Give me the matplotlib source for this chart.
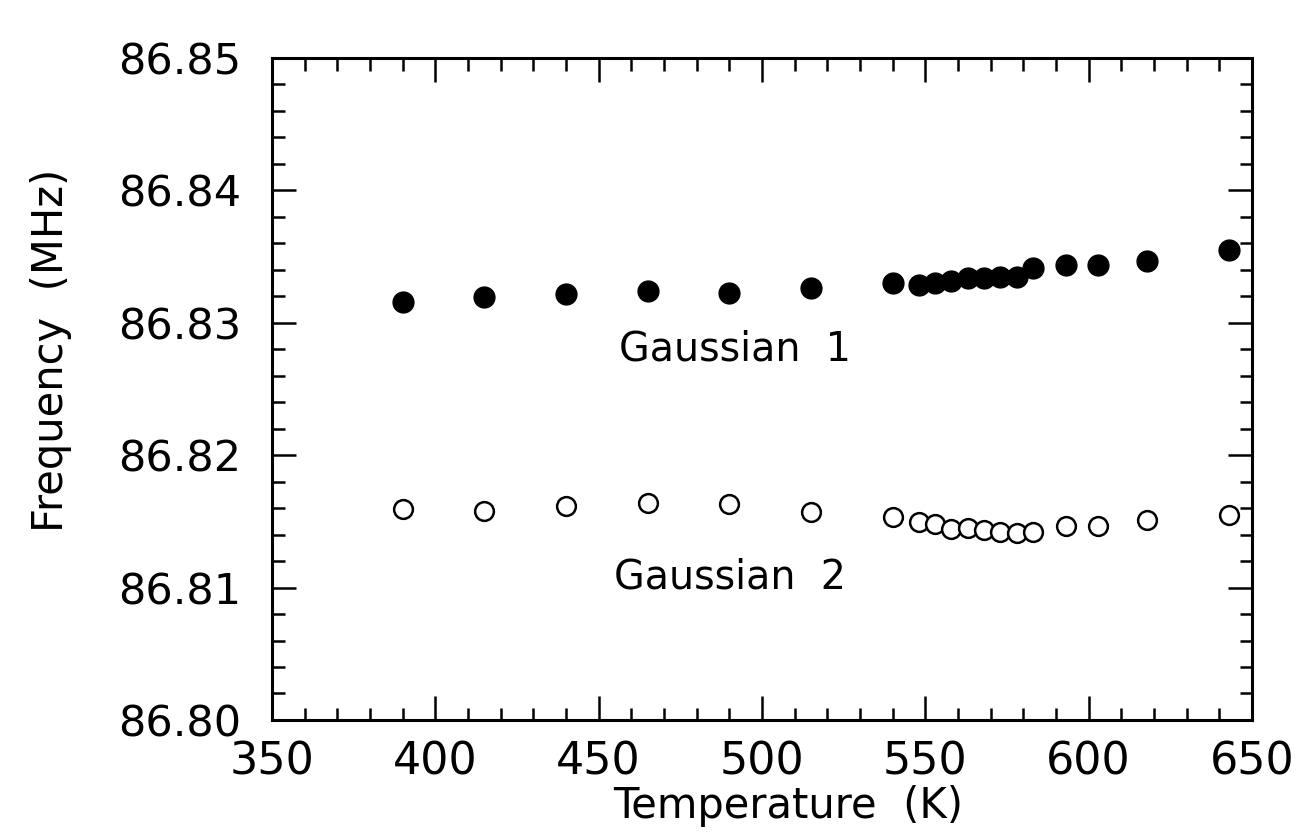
import numpy as np
import matplotlib
matplotlib.use('Agg')
import matplotlib.pyplot as plt
from matplotlib.ticker import MultipleLocator

# temperatures (K) of the measured points
temperature = [390, 415, 440, 465, 490, 515, 540, 548, 553, 558, 563, 568, 573, 578, 583, 593, 603, 618, 643]

# Gaussian 1 (filled circles), MHz
freqGauss1 = [86.83159, 86.83197, 86.83218, 86.83243, 86.83227, 86.83261, 86.83298,
	86.83286, 86.83303, 86.83318, 86.83336, 86.83341, 86.83348, 86.83344, 86.83412,
	86.83437, 86.83437, 86.83469, 86.83550]

# Gaussian 2 (open circles), MHz
freqGauss2 = [86.81594, 86.81579, 86.81616, 86.81636, 86.81631, 86.81573, 86.81536,
	86.81498, 86.81478, 86.81443, 86.81448, 86.81435, 86.81422, 86.81410, 86.81418,
	86.81465, 86.81465, 86.81511, 86.81548]

xTicks = [350, 400, 450, 500, 550, 600, 650]
yTicks = [86.80, 86.81, 86.82, 86.83, 86.84, 86.85]

plt.rcParams['font.family'] = ['DejaVu Sans']

fig = plt.figure(figsize=(13.15, 8.4), dpi=100)
ax = fig.add_axes([0.2068, 0.1429, 0.7453, 0.7881])

ax.plot(temperature, freqGauss1, 'o', color='k', markersize=15, linestyle='none')
ax.plot(temperature, freqGauss2, 'o', markerfacecolor='white', markeredgecolor='k',
	markersize=13.5, markeredgewidth=1.8, linestyle='none')

ax.set_xlim(350, 650)
ax.set_ylim(86.80, 86.85)
ax.set_xticks(xTicks)
ax.set_yticks(yTicks)
ax.set_xticklabels([str(t) for t in xTicks])
ax.set_yticklabels(["%.2f" % t for t in yTicks])
ax.xaxis.set_minor_locator(MultipleLocator(10))
ax.yaxis.set_minor_locator(MultipleLocator(0.002))

ax.tick_params(which='both', direction='in', top=True, right=True, width=1.8)
ax.tick_params(which='major', length=17)
ax.tick_params(which='minor', length=9)
ax.tick_params(axis='x', which='major', labelsize=32, pad=15)
ax.tick_params(axis='y', which='major', labelsize=31, pad=22)
for s in ax.spines.values():
	s.set_linewidth(2.2)

ax.set_xlabel("Temperature  (K)", fontsize=30, va='center')
ax.xaxis.set_label_coords(0.5265, -0.13)
ax.set_ylabel("Frequency  (MHz)", fontsize=30, va='center')
ax.yaxis.set_label_coords(-0.225, 0.559)

ax.text(491.7, 86.82795, "Gaussian  1", fontsize=28.5, ha='center', va='center')
ax.text(490.2, 86.81073, "Gaussian  2", fontsize=28.5, ha='center', va='center')

plt.savefig("out.png", dpi=100)
